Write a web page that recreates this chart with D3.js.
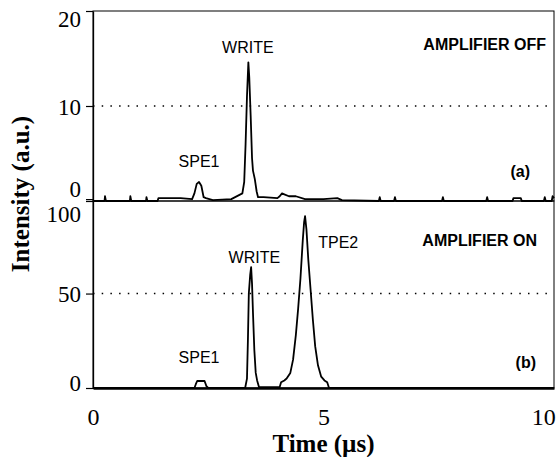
<!DOCTYPE html>
<html>
<head>
<meta charset="utf-8">
<script src="https://cdn.jsdelivr.net/npm/d3@7"></script>
<style>
  body { margin: 0; background: #fff; }
  svg { display: block; }
</style>
</head>
<body>
<svg id="chart" width="558" height="457"></svg>
<script>
// trace (a): amplifier off
var timeA = [0, 0.25, 0.26, 0.28, 0.8, 0.81, 0.83, 1.15, 1.16, 1.18, 1.4, 1.42, 1.9, 2.15, 2.2, 2.25, 2.3, 2.35, 2.4, 2.45,
             2.6, 3.0, 3.24, 3.28, 3.31, 3.34, 3.37, 3.39, 3.42, 3.45, 3.47, 3.51, 3.55, 3.58, 3.7, 4.0, 4.05, 4.1,
             4.15, 4.25, 4.4, 4.6, 5.0, 5.3, 5.4, 6.2, 6.22, 6.24, 6.53, 6.55, 6.57, 7.57, 7.59, 7.61, 8.53, 8.55,
             8.57, 9.1, 9.12, 9.28, 9.3, 9.78, 9.8, 9.82, 9.95, 9.97, 10];
var valueA = [0, 0, 0.5, 0, 0, 0.5, 0, 0, 0.4, 0, 0, 0.3, 0.3, 0.2, 0.8, 1.8, 2.0, 1.6, 0.4, 0.3,
              0.1, 0.2, 0.8, 2.0, 6, 11, 14.6, 13, 9, 4.5, 3.2, 2.3, 1.0, 0.4, 0.4, 0.3, 0.5, 0.8,
              0.7, 0.5, 0.5, 0.2, 0.2, 0.3, 0.1, 0, 0.4, 0, 0, 0.4, 0, 0, 0.4, 0, 0, 0.4,
              0, 0, 0.3, 0.3, 0, 0, 0.4, 0, 0, 0.5, 0.3];

// trace (b): amplifier on
var timeB = [0, 2.2, 2.23, 2.26, 2.42, 2.46, 2.5, 3.3, 3.34, 3.36, 3.38, 3.41, 3.43, 3.45, 3.47, 3.5, 3.53, 3.56,
             3.6, 4.05, 4.08, 4.15, 4.2, 4.28, 4.34, 4.4, 4.45, 4.5, 4.55, 4.58, 4.6, 4.63, 4.67, 4.72, 4.77,
             4.82, 4.88, 4.95, 5.02, 5.08, 5.12, 10];
var valueB = [0, 0, 2, 3.7, 3.7, 1, 0, 0, 5, 25, 50, 60, 64, 55, 40, 20, 8, 4,
              0.5, 0.5, 3, 4, 5, 8, 15, 28, 42, 58, 78, 88, 91, 84, 68, 52, 36,
              22, 12, 6, 4, 3, 0, 0];

var yTicksA = [0, 10, 20];
var yTicksB = [0, 50, 100];
var xTicks = [0, 5, 10];

var labelsA = [
  {text: "SPE1", t: 2.3, v: 3.6},
  {text: "WRITE", t: 3.36, v: 15.6}
];
var labelsB = [
  {text: "SPE1", t: 2.3, v: 13.5},
  {text: "WRITE", t: 3.5, v: 66},
  {text: "TPE2", t: 5.32, v: 74}
];

var svg = d3.select("#chart");
var g = svg.append("g");

var x = d3.scaleLinear().domain([0, 10]).range([93, 554]);
var yA = d3.scaleLinear().domain([0, 20]).range([201, 11]);
var yB = d3.scaleLinear().domain([0, 99]).range([388, 201]);

var serif = "'Liberation Serif', 'Times New Roman', serif";
var sans = "'Liberation Sans', Arial, sans-serif";

// frames
g.append("rect")
  .attr("x", x(0)).attr("y", yA(20))
  .attr("width", x(10) - x(0)).attr("height", yA(0) - yA(20))
  .attr("fill", "none").attr("stroke", "#000").attr("stroke-width", 1);
g.append("rect")
  .attr("x", x(0)).attr("y", yB(99))
  .attr("width", x(10) - x(0)).attr("height", yB(0) - yB(99))
  .attr("fill", "none").attr("stroke", "#000").attr("stroke-width", 1);

// dotted reference lines
g.append("line")
  .attr("x1", x(0)).attr("x2", x(10))
  .attr("y1", yA(10)).attr("y2", yA(10))
  .attr("stroke", "#000").attr("stroke-width", 1.5)
  .attr("stroke-dasharray", "1.5,7.2");
g.append("line")
  .attr("x1", x(0)).attr("x2", x(10))
  .attr("y1", yB(50)).attr("y2", yB(50))
  .attr("stroke", "#000").attr("stroke-width", 1.5)
  .attr("stroke-dasharray", "1.5,7.2");

// y axes
function styleAxis(sel)
{
  sel.select(".domain").attr("stroke-width", 1.3);
  sel.selectAll(".tick line").attr("stroke-width", 1.2);
  sel.selectAll(".tick text")
    .attr("font-family", serif)
    .attr("font-size", 23)
    .attr("fill", "#000");
}

// tick label baselines, relative to the tick, nudged where panels meet
var yShiftA = {0: -5, 10: 8, 20: 15};
var yShiftB = {0: 2, 50: 8, 100: 22};

var axisA = g.append("g")
  .attr("transform", "translate(" + x(0) + ",0)")
  .call(d3.axisLeft(yA).tickValues(yTicksA).tickSize(7).tickSizeOuter(0).tickPadding(5))
  .call(styleAxis);
axisA.selectAll(".tick text")
  .attr("dy", 0)
  .attr("y", function(d) { return yShiftA[d]; });

var axisB = g.append("g")
  .attr("transform", "translate(" + x(0) + ",0)")
  .call(d3.axisLeft(yB).tickValues(yTicksB).tickSize(7).tickSizeOuter(0).tickPadding(5))
  .call(styleAxis);
axisB.selectAll(".tick text")
  .attr("dy", 0)
  .attr("y", function(d) { return yShiftB[d]; });

// x axis
var axisX = g.append("g")
  .attr("transform", "translate(0," + yB(0) + ")")
  .call(d3.axisBottom(x).tickValues(xTicks).tickSize(0).tickSizeOuter(0).tickPadding(20))
  .call(styleAxis);
axisX.select(".domain").attr("stroke-width", 2.6);
axisX.selectAll(".tick text")
  .attr("font-size", 24)
  .attr("text-anchor", function(d) { return d === 10 ? "end" : "middle"; })
  .attr("dx", function(d) { return d === 10 ? "0.05em" : 0; });

// traces
var lineA = d3.line()
  .x(function(d, i) { return x(timeA[i]); })
  .y(function(d) { return yA(d); });
var lineB = d3.line()
  .x(function(d, i) { return x(timeB[i]); })
  .y(function(d) { return yB(d); });

g.append("path")
  .datum(valueA)
  .attr("fill", "none").attr("stroke", "#000")
  .attr("stroke-width", 1.8).attr("stroke-linejoin", "round")
  .attr("d", lineA);
g.append("path")
  .datum(valueB)
  .attr("fill", "none").attr("stroke", "#000")
  .attr("stroke-width", 1.8).attr("stroke-linejoin", "round")
  .attr("d", lineB);

// peak labels
function peakLabels(labels, y)
{
  g.selectAll(null)
    .data(labels)
    .enter().append("text")
    .attr("x", function(d) { return x(d.t); })
    .attr("y", function(d) { return y(d.v); })
    .attr("text-anchor", "middle")
    .attr("font-family", sans)
    .attr("font-size", 16)
    .text(function(d) { return d.text; });
}
peakLabels(labelsA, yA);
peakLabels(labelsB, yB);

// panel captions
var captions = [
  {text: "AMPLIFIER OFF", px: 546, py: 50},
  {text: "(a)", px: 530, py: 177},
  {text: "AMPLIFIER ON", px: 537, py: 246},
  {text: "(b)", px: 536, py: 368}
];
g.selectAll(null)
  .data(captions)
  .enter().append("text")
  .attr("x", function(d) { return d.px; })
  .attr("y", function(d) { return d.py; })
  .attr("text-anchor", "end")
  .attr("font-family", sans)
  .attr("font-weight", "bold")
  .attr("font-size", 16)
  .text(function(d) { return d.text; });

// axis titles
g.append("text")
  .attr("x", x(5))
  .attr("y", 452)
  .attr("text-anchor", "middle")
  .attr("font-family", serif)
  .attr("font-weight", "bold")
  .attr("font-size", 25)
  .text("Time (\u00b5s)");

g.append("text")
  .attr("transform", "translate(29,194) rotate(-90)")
  .attr("text-anchor", "middle")
  .attr("font-family", serif)
  .attr("font-weight", "bold")
  .attr("font-size", 25)
  .text("Intensity (a.u.)");
</script>
</body>
</html>
